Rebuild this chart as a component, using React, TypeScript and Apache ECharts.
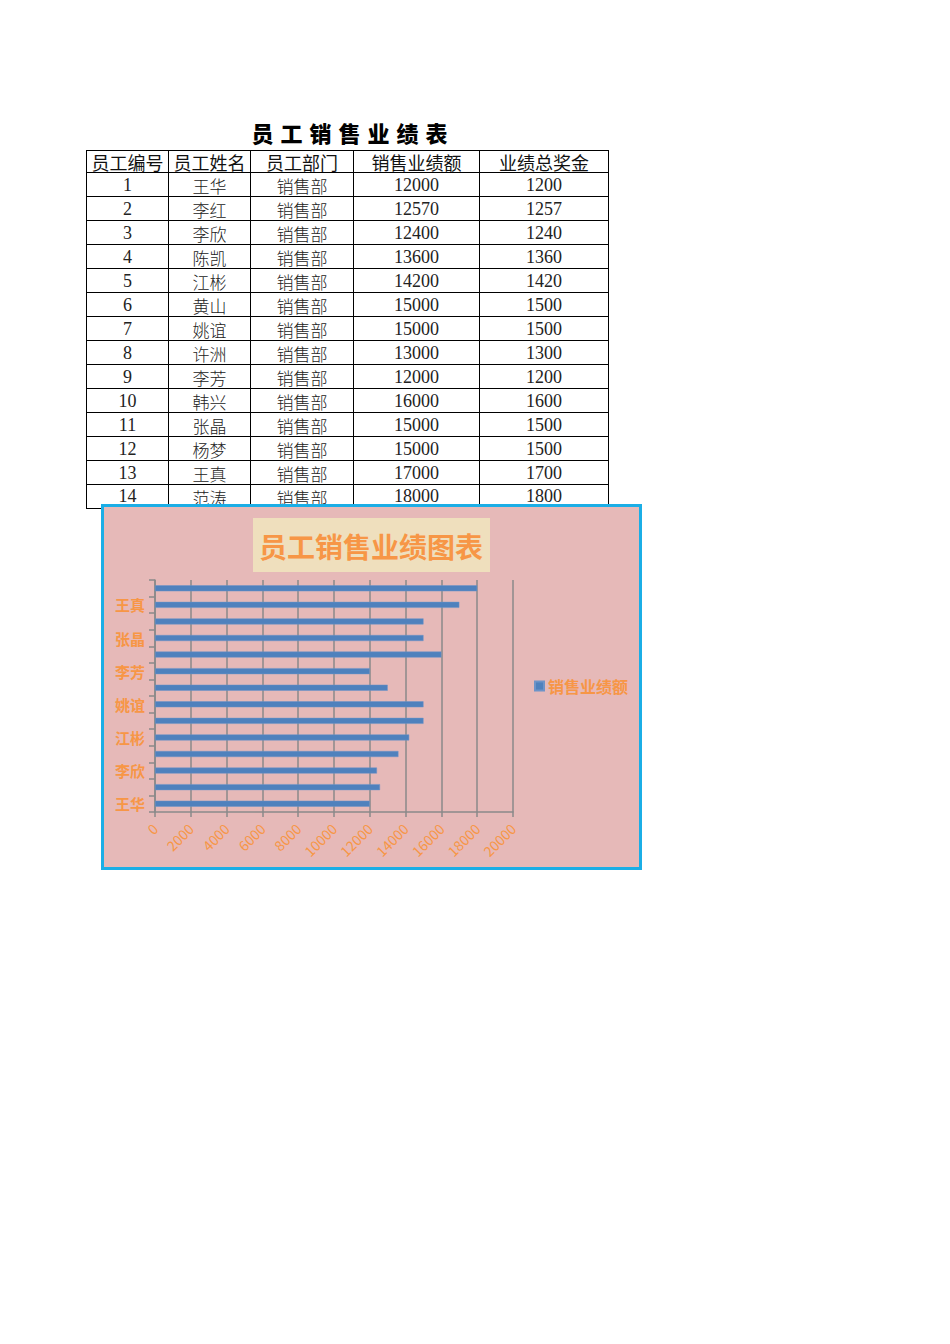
import React, { useEffect, useRef } from "react";
import * as echarts from "echarts";

const headers = ["员工编号", "员工姓名", "员工部门", "销售业绩额", "业绩总奖金"];
const ids = ["1", "2", "3", "4", "5", "6", "7", "8", "9", "10", "11", "12", "13", "14"];
const names = ["王华", "李红", "李欣", "陈凯", "江彬", "黄山", "姚谊", "许洲", "李芳", "韩兴", "张晶", "杨梦", "王真", "范涛"];
const depts = ["销售部", "销售部", "销售部", "销售部", "销售部", "销售部", "销售部", "销售部", "销售部", "销售部", "销售部", "销售部", "销售部", "销售部"];
const sales = [12000, 12570, 12400, 13600, 14200, 15000, 15000, 13000, 12000, 16000, 15000, 15000, 17000, 18000];
const bonus = [1200, 1257, 1240, 1360, 1420, 1500, 1500, 1300, 1200, 1600, 1500, 1500, 1700, 1800];

const tableTitle = "员工销售业绩表";
const chartTitle = "员工销售业绩图表";
const seriesName = "销售业绩额";

const colWidths = [82, 82, 103, 126, 130];
const TABLE_LEFT = 86;
const HEADER_TOP = 150;
const HEADER_H = 22;
const ROW_H = 24;

const ORANGE = "#f79646";
const GRAY = "#8a8a8a";

function Table() {
  const rows: string[][] = ids.map((id, i) => [id, names[i], depts[i], String(sales[i]), String(bonus[i])]);
  const cells: React.ReactNode[] = [];
  let x = TABLE_LEFT;
  const xs: number[] = [];
  colWidths.forEach((w) => {
    xs.push(x);
    x += w;
  });
  headers.forEach((h, c) => {
    cells.push(
      <div
        key={"h" + c}
        style={{
          position: "absolute",
          left: xs[c],
          top: HEADER_TOP,
          width: colWidths[c],
          height: HEADER_H,
          boxSizing: "border-box",
          borderLeft: "1px solid #000",
          borderTop: "1px solid #000",
          borderRight: c === colWidths.length - 1 ? "1px solid #000" : undefined,
          display: "flex",
          alignItems: "center",
          justifyContent: "center",
        }}
      >
        <span
          style={{
            fontFamily: "'Noto Sans CJK SC', sans-serif",
            fontSize: 18,
            lineHeight: "18px",
            color: "#111",
            whiteSpace: "nowrap",
          }}
        >
          {h}
        </span>
      </div>
    );
  });
  rows.forEach((r, ri) => {
    r.forEach((v, c) => {
      const isNum = c === 0 || c >= 3;
      cells.push(
        <div
          key={"c" + ri + "_" + c}
          style={{
            position: "absolute",
            left: xs[c],
            top: HEADER_TOP + HEADER_H + ri * ROW_H,
            width: colWidths[c],
            height: ROW_H + 1,
            boxSizing: "border-box",
            borderLeft: "1px solid #000",
            borderTop: "1px solid #000",
            borderBottom: ri === rows.length - 1 ? "1px solid #000" : undefined,
            borderRight: c === colWidths.length - 1 ? "1px solid #000" : undefined,
            display: "flex",
            alignItems: "center",
            justifyContent: "center",
          }}
        >
          <span
            style={{
              fontFamily: isNum ? "'Liberation Serif', serif" : "'Noto Sans CJK SC', sans-serif",
              fontSize: isNum ? 18 : 17,
              fontWeight: 300,
              lineHeight: "17px",
              color: "#222",
              whiteSpace: "nowrap",
              marginTop: isNum ? 0 : 1,
            }}
          >
            {v}
          </span>
        </div>
      );
    });
  });
  return (
    <>
      <div
        style={{
          position: "absolute",
          left: 242,
          top: 118,
          width: 222,
          height: 28,
          textAlign: "center",
          fontFamily: "'Noto Sans CJK SC', sans-serif",
          fontWeight: 900,
          fontSize: 22,
          letterSpacing: "7px",
          lineHeight: "28px",
          color: "#000",
          whiteSpace: "nowrap",
        }}
      >
        {tableTitle}
      </div>
      {cells}
    </>
  );
}

function Chart() {
  const ref = useRef<HTMLDivElement>(null);
  useEffect(() => {
    if (!ref.current) return;
    const chart = echarts.init(ref.current, undefined, { renderer: "svg" });
    const W = 541;
    const H = 366;
    chart.setOption({
      animation: false,
      backgroundColor: "#e6b9b8",
      textStyle: { fontFamily: "'Noto Sans CJK SC', 'Open Sans', sans-serif" },
      grid: { left: 54, top: 76, right: 129, bottom: 58, containLabel: false },
      legend: {
        data: [seriesName],
        left: 428,
        top: 169,
        icon: "rect",
        itemWidth: 9,
        itemHeight: 9,
        itemGap: 4,
        textStyle: { color: ORANGE, fontSize: 16, fontWeight: "bold", padding: [0, 0, 0, -1] },
      },
      xAxis: {
        type: "value",
        min: 0,
        max: 20000,
        interval: 2000,
        axisLine: { show: true, lineStyle: { color: GRAY, width: 1.5 } },
        axisTick: { show: true, length: 5, lineStyle: { color: GRAY, width: 1.5 } },
        splitLine: { show: true, lineStyle: { color: GRAY, width: 1.5 } },
        axisLabel: {
          rotate: 45,
          color: ORANGE,
          fontSize: 14,
          margin: 14,
          showMinLabel: true,
          showMaxLabel: true,
          formatter: (v: number) => String(v),
        },
      },
      yAxis: {
        type: "category",
        data: names,
        boundaryGap: true,
        axisLine: { show: true, lineStyle: { color: GRAY, width: 1.5 } },
        axisTick: { show: true, length: 6, interval: 0, alignWithLabel: false, lineStyle: { color: GRAY, width: 1.5 } },
        axisLabel: { interval: 1, color: ORANGE, fontSize: 15, fontWeight: "bold", margin: 10 },
        splitLine: { show: false },
      },
      series: [
        {
          name: seriesName,
          type: "bar",
          data: sales,
          barWidth: 6,
          itemStyle: { color: "#4f81bd", borderColor: "#6d94c8", borderWidth: 0.5 },
        },
      ],
      graphic: [
        {
          type: "rect",
          left: 152,
          top: 14,
          shape: { width: 237, height: 54 },
          style: { fill: "#efdfbd" },
          z: 1,
        },
        {
          type: "text",
          x: 270,
          y: 42,
          style: {
            text: chartTitle,
            fill: ORANGE,
            fontSize: 28,
            fontWeight: "bold",
            fontFamily: "'Noto Sans CJK SC', sans-serif",
            align: "center",
            verticalAlign: "middle",
          },
          z: 2,
        },
        {
          type: "rect",
          shape: { x: 1.5, y: 1.5, width: W - 3, height: H - 3 },
          style: { fill: "none", stroke: "#1baee6", lineWidth: 3 },
          z: 10,
        },
      ],
    });
    return () => chart.dispose();
  }, []);
  return (
    <div
      ref={ref}
      style={{ position: "absolute", left: 101, top: 504, width: 541, height: 366, zIndex: 5 }}
    />
  );
}

export default function App() {
  return (
    <div style={{ position: "absolute", left: 0, top: 0, width: 950, height: 1344, background: "#fff", overflow: "hidden" }}>
      <Table />
      <Chart />
    </div>
  );
}
